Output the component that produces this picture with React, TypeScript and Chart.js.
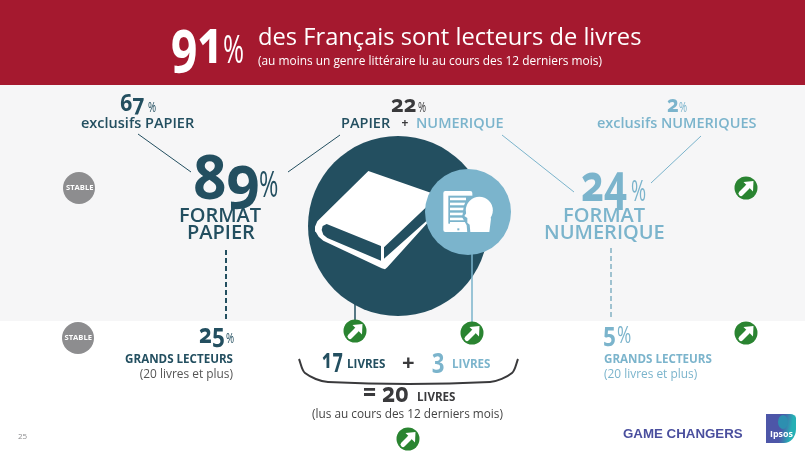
import React, { useEffect, useRef } from 'react';
import { Chart, registerables } from 'chart.js';

Chart.register(...registerables);

const W = 805;
const H = 453;

const RED = '#a5192f';
const DARK = '#234f60';
const LIGHT = '#7bb4cc';
const GREEN = '#2a8431';
const GREY = '#8d8d8f';
const INK = '#3a3a3c';

const readers = [91];
const breakdown = [67, 22, 2];
const formats = [89, 24];
const bigReaders = [25, 5];
const booksRead = [17, 3, 20];

// page layout, in slide pixels
const stableSpots = [{ x: 79, y: 188 }, { x: 78, y: 338 }];
const upSpots = [{ x: 355, y: 331 }, { x: 472, y: 333 }, { x: 746, y: 333 }, { x: 746, y: 188 }, { x: 408, y: 439 }];

const zoomed = (pts: number[][]) => pts.map(([x, y]) => ({ x: 300 + x / 3, y: 150 + y / 3 }));

const bookCover = zoomed([
  [205, 63], [392, 128], [388, 212], [262, 352], [255, 358], [245, 355], [70, 272], [56, 260], [47, 245], [45, 230], [52, 214],
]);
const bookSpine = zoomed([[80, 222], [243, 288], [243, 332], [82, 264], [70, 254], [65, 240], [68, 228]]);
const bookPages = zoomed([[380, 170], [252, 292], [252, 326], [380, 212]]);

function makeArrowBadge() {
  const c = document.createElement('canvas');
  c.width = 24;
  c.height = 24;
  const g = c.getContext('2d')!;
  g.fillStyle = GREEN;
  g.beginPath();
  g.arc(12, 12, 11.5, 0, Math.PI * 2);
  g.fill();
  g.fillStyle = '#fff';
  g.strokeStyle = '#fff';
  g.lineWidth = 5;
  g.lineCap = 'round';
  g.beginPath();
  g.moveTo(7, 17.5);
  g.lineTo(13.5, 11);
  g.stroke();
  g.beginPath();
  g.moveTo(19.5, 5);
  g.lineTo(19, 15.5);
  g.lineTo(9.5, 6);
  g.closePath();
  g.fill();
  return c;
}

const segment = (pts: { x: number; y: number }[], color: string, width: number, dash: number[] = []) => ({
  data: pts,
  showLine: true,
  borderColor: color,
  borderWidth: width,
  borderDash: dash,
  pointRadius: 0,
});

const shape = (pts: { x: number; y: number }[], color: string) => ({
  data: [...pts, pts[0]],
  showLine: true,
  borderColor: color,
  borderWidth: 0,
  backgroundColor: color,
  fill: 'shape',
  pointRadius: 0,
});

const dots = (pts: { x: number; y: number }[], color: string, radius: number) => ({
  data: pts,
  pointRadius: radius,
  pointBackgroundColor: color,
  pointBorderWidth: 0,
});

const backdrop = {
  id: 'backdrop',
  beforeDraw(chart: any) {
    const { ctx, scales } = chart;
    const y = scales.y;
    ctx.save();
    ctx.fillStyle = '#fff';
    ctx.fillRect(0, 0, W, H);
    ctx.fillStyle = '#f6f6f7';
    ctx.fillRect(0, y.getPixelForValue(85), W, y.getPixelForValue(321) - y.getPixelForValue(85));
    ctx.fillStyle = RED;
    ctx.fillRect(0, 0, W, y.getPixelForValue(85));
    ctx.restore();
  },
};

const tabletIcon = {
  id: 'tabletIcon',
  afterDatasetsDraw(chart: any) {
    const { ctx } = chart;
    const X = (v: number) => 436 + v / 3;
    const Y = (v: number) => 182 + v / 3;
    ctx.save();
    ctx.fillStyle = '#fff';
    ctx.beginPath();
    ctx.roundRect(X(22), Y(27), 29, 41, 2);
    ctx.fill();
    ctx.fillStyle = LIGHT;
    ctx.fillRect(X(37), Y(41), 24, 28);
    ctx.fillRect(X(64), Y(139), 2, 2);
    ctx.fillStyle = '#fff';
    [47, 62, 77, 92, 107, 120].forEach((v) => ctx.fillRect(X(42), Y(v), 16, 2.6));
    // halo around the reader's head
    ctx.fillStyle = LIGHT;
    ctx.beginPath();
    ctx.arc(X(130), Y(85), 16, 0, Math.PI * 2);
    ctx.fill();
    ctx.beginPath();
    ctx.moveTo(X(78), Y(105));
    ctx.lineTo(X(88), Y(60));
    ctx.lineTo(X(120), Y(60));
    ctx.lineTo(X(120), Y(153));
    ctx.lineTo(X(94), Y(153));
    ctx.lineTo(X(92), Y(130));
    ctx.closePath();
    ctx.fill();
    // head
    ctx.fillStyle = '#fff';
    ctx.beginPath();
    ctx.arc(X(130), Y(85), 13.5, 0, Math.PI * 2);
    ctx.fill();
    ctx.beginPath();
    ctx.moveTo(X(98), Y(68));
    ctx.lineTo(X(97), Y(85));
    ctx.lineTo(X(85), Y(102));
    ctx.lineTo(X(94), Y(108));
    ctx.lineTo(X(94), Y(122));
    ctx.lineTo(X(101), Y(128));
    ctx.lineTo(X(103), Y(150));
    ctx.lineTo(X(160), Y(150));
    ctx.lineTo(X(165), Y(110));
    ctx.lineTo(X(140), Y(60));
    ctx.closePath();
    ctx.fill();
    ctx.restore();
  },
};

type TextProps = {
  x: number;
  y: number;
  size: number;
  color: string;
  weight?: number;
  right?: boolean;
  num?: boolean;
  sx?: number;
  family?: string;
  children: React.ReactNode;
};

// y is the text baseline; Open Sans sits at .888em in a line-height:1 box, Liberation at .8465em
function T({ x, y, size, color, weight = 400, right, num, sx = 1, family = '"Open Sans"', children }: TextProps) {
  const base = family.includes('Liberation') ? 0.8465 : 0.888;
  return (
    <div
      style={{
        position: 'absolute',
        left: right ? undefined : x,
        right: right ? W - x : undefined,
        top: y - base * size,
        fontFamily: family,
        fontSize: size,
        fontWeight: weight,
        color,
        lineHeight: 1,
        whiteSpace: 'nowrap',
        fontFeatureSettings: num ? '"onum" 1' : 'normal',
        transform: sx === 1 ? undefined : `scaleX(${sx})`,
        transformOrigin: 'left',
      }}
    >
      {children}
    </div>
  );
}

function App() {
  const canvasRef = useRef<HTMLCanvasElement>(null);

  useEffect(() => {
    if (!canvasRef.current) return;
    const badge = makeArrowBadge();
    const layers: any[] = [
      dots([{ x: 398, y: 226 }], DARK, 90),
      shape(bookCover, '#fff'),
      shape(bookSpine, DARK),
      shape(bookPages, DARK),
      segment([{ x: 355, y: 304 }, { x: 355, y: 322 }], DARK, 1.5),
      segment([{ x: 472, y: 250 }, { x: 472, y: 324 }], LIGHT, 1.5),
      dots([{ x: 468, y: 212 }], LIGHT, 43),
      segment([{ x: 138, y: 134 }, { x: 191, y: 172 }], DARK, 1),
      segment([{ x: 288, y: 172 }, { x: 340, y: 135 }], DARK, 1),
      segment([{ x: 502, y: 135 }, { x: 574, y: 192 }], LIGHT, 1),
      segment([{ x: 701, y: 136 }, { x: 651, y: 183 }], LIGHT, 1),
      segment([{ x: 226, y: 250 }, { x: 226, y: 320 }], DARK, 2, [5, 3]),
      segment([{ x: 611, y: 248 }, { x: 611, y: 318 }], '#9fc2d0', 2, [5, 3]),
      {
        ...segment(
          [{ x: 299, y: 359 }, { x: 305, y: 373 }, { x: 328, y: 382 }, { x: 490, y: 382 }, { x: 512, y: 373 }, { x: 518, y: 359 }],
          INK,
          2
        ),
        tension: 0.3,
      },
      dots(stableSpots, GREY, 16),
      { data: upSpots, pointStyle: badge, pointRadius: 12 },
    ];
    const chart = new Chart(canvasRef.current, {
      type: 'scatter',
      data: { datasets: layers.map((l, i) => ({ ...l, order: -i })) },
      options: {
        animation: false,
        responsive: false,
        layout: { padding: 0, autoPadding: false },
        plugins: { legend: { display: false }, tooltip: { enabled: false } },
        scales: {
          x: { type: 'linear', min: 0, max: W, display: false },
          y: { type: 'linear', min: 0, max: H, reverse: true, display: false },
        },
      },
      plugins: [backdrop, tabletIcon],
    });
    return () => {
      chart.destroy();
    };
  }, []);

  return (
    <div style={{ position: 'absolute', left: 0, top: 0, width: W, height: H, overflow: 'hidden' }}>
      <canvas ref={canvasRef} width={W} height={H} style={{ display: 'block' }} />

      <T x={171} y={63} size={60} weight={700} num sx={0.77} color="#fff">{readers[0]}</T>
      <T x={223} y={63} size={38} sx={0.67} color="#fff">%</T>
      <T x={258} y={46} size={23.7} color="#fff">des Français sont lecteurs de livres</T>
      <T x={258} y={66} size={11.9} color="#fff">(au moins un genre littéraire lu au cours des 12 derniers mois)</T>

      <T x={120} y={111} size={24} weight={700} num sx={0.89} color={DARK}>{breakdown[0]}</T>
      <T x={148} y={112} size={14} sx={0.7} color={DARK}>%</T>
      <T x={81} y={129} size={14.5} weight={600} color={DARK}>exclusifs PAPIER</T>

      <T x={391} y={112} size={24} weight={700} num sx={0.92} color={INK}>{breakdown[1]}</T>
      <T x={418} y={112} size={14} sx={0.7} color={INK}>%</T>
      <T x={341} y={129} size={14.5} weight={600} color={DARK}>PAPIER</T>
      <T x={401.5} y={128} size={12} weight={700} color={INK}>+</T>
      <T x={416} y={129} size={14.5} weight={600} color={LIGHT}>NUMERIQUE</T>

      <T x={667} y={112} size={24} weight={700} num sx={0.85} color={LIGHT}>{breakdown[2]}</T>
      <T x={679} y={112} size={14} sx={0.7} color={LIGHT}>%</T>
      <T x={597} y={129} size={14.5} weight={600} color={LIGHT}>exclusifs NUMERIQUES</T>

      <T x={193} y={199} size={60} weight={700} num sx={0.97} color={DARK}>{formats[0]}</T>
      <T x={259} y={198} size={36} sx={0.65} color={DARK}>%</T>
      <T x={179} y={223} size={20} weight={600} color={DARK}>FORMAT</T>
      <T x={187} y={240} size={20} weight={600} color={DARK}>PAPIER</T>

      <T x={581} y={201} size={52} weight={700} num sx={0.77} color={LIGHT}>{formats[1]}</T>
      <T x={631} y={201} size={29} sx={0.63} color={LIGHT}>%</T>
      <T x={563} y={223} size={20} weight={600} color={LIGHT}>FORMAT</T>
      <T x={544} y={240} size={20} weight={600} color={LIGHT}>NUMERIQUE</T>

      <T x={199} y={343} size={26} weight={700} num sx={0.86} color={DARK}>{bigReaders[0]}</T>
      <T x={226} y={343} size={14} sx={0.7} color={DARK}>%</T>
      <T x={233} y={363} size={11.6} weight={700} right color={DARK}>GRANDS LECTEURS</T>
      <T x={233} y={379} size={11.9} right color="#555">(20 livres et plus)</T>

      <T x={603} y={342} size={27} weight={700} num sx={0.83} color={LIGHT}>{bigReaders[1]}</T>
      <T x={617} y={343} size={24} sx={0.72} color={LIGHT}>%</T>
      <T x={604} y={363} size={11.6} weight={700} color={LIGHT}>GRANDS LECTEURS</T>
      <T x={604} y={379} size={11.9} color={LIGHT}>(20 livres et plus)</T>

      <T x={322} y={368} size={26} weight={700} num sx={0.7} color={DARK}>{booksRead[0]}</T>
      <T x={347} y={368} size={11.6} weight={700} color={DARK}>LIVRES</T>
      <T x={402} y={370} size={22} weight={700} color={INK}>+</T>
      <T x={432} y={368} size={26} weight={700} num sx={0.85} color={LIGHT}>{booksRead[1]}</T>
      <T x={452} y={368} size={11.6} weight={700} color={LIGHT}>LIVRES</T>
      <T x={363} y={402} size={26} weight={700} num sx={0.88} color={INK}>= {booksRead[2]}</T>
      <T x={417} y={401} size={11.6} weight={700} color={INK}>LIVRES</T>
      <T x={312} y={418} size={11.8} color="#444">(lus au cours des 12 derniers mois)</T>

      <T x={66} y={191} size={7.6} weight={700} color="#fff">STABLE</T>
      <T x={64.5} y={341} size={7.6} weight={700} color="#fff">STABLE</T>

      <T x={18} y={439} size={8} color={GREY}>25</T>
      <T x={623} y={438} size={13.3} weight={700} color="#4a4f9e" family='"Liberation Sans"'>GAME CHANGERS</T>
      <div
        style={{
          position: 'absolute',
          left: 766,
          top: 414,
          width: 30,
          height: 29,
          borderRadius: '0 6px 12px 0 / 0 4px 14px 0',
          background: 'linear-gradient(100deg, #4d56a8 50%, #25b0b5 80%)',
        }}
      />
      <div style={{ position: 'absolute', left: 778, top: 415, width: 10, height: 14, borderRadius: '50%', background: '#2d8fb0' }} />
      <T x={770} y={438} size={8.9} weight={700} color="#fff">Ipsos</T>
    </div>
  );
}

export default App;
